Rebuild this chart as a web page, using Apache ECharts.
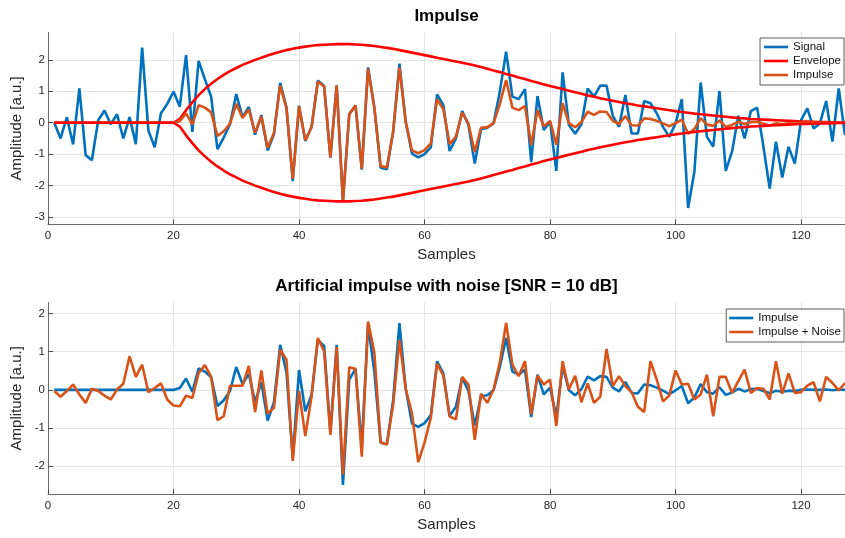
<!DOCTYPE html>
<html>
<head>
<meta charset="utf-8">
<script src="https://cdn.jsdelivr.net/npm/echarts@6/dist/echarts.min.js"></script>
<style>
html,body{margin:0;padding:0;background:#fff;}
#chart{width:845px;height:538px;}
</style>
</head>
<body>
<div id="chart"></div>
<script>
// ---- data (sample index n = 1..127) ----
var samples = [1,2,3,4,5,6,7,8,9,10,11,12,13,14,15,16,17,18,19,20,21,22,23,24,25,26,27,28,29,30,31,32,33,34,35,36,37,38,39,40,41,42,43,44,45,46,47,48,49,50,51,52,53,54,55,56,57,58,59,60,61,62,63,64,65,66,67,68,69,70,71,72,73,74,75,76,77,78,79,80,81,82,83,84,85,86,87,88,89,90,91,92,93,94,95,96,97,98,99,100,101,102,103,104,105,106,107,108,109,110,111,112,113,114,115,116,117,118,119,120,121,122,123,124,125,126,127];

var signal = [0,-0.5,0.17,-0.69,1.09,-1.03,-1.19,0.08,0.39,-0.05,0.27,-0.5,0.18,-0.68,2.39,-0.25,-0.78,0.3,0.6,0.99,
0.51,2.15,-0.29,1.97,1.38,0.83,-0.84,-0.47,-0.05,0.91,0.18,0.5,-0.38,0.24,-0.88,-0.37,1.27,0.49,-1.86,0.54,
-0.58,-0.13,1.34,1.17,-1.11,1.19,-2.49,0.27,0.55,-1.49,1.76,0.49,-1.43,-1.48,-0.29,1.88,0.03,-0.98,-1.1,-1.0,
-0.78,0.9,0.56,-0.9,-0.5,0.37,-0.07,-1.3,-0.21,-0.16,-0.02,0.99,2.26,0.83,0.75,1.07,-1.25,0.85,-0.23,0.03,
-1.53,1.6,-0.07,-0.35,-0.05,1.09,0.83,1.18,1.18,0.22,-0.13,0.88,-0.34,-0.34,0.69,0.62,0.3,-0.13,-0.45,-0.02,
0.75,-2.71,-1.56,1.28,-0.45,-0.76,1.01,-1.53,-0.92,0.22,-0.5,0.37,0.48,-0.76,-2.09,-0.6,-1.74,-0.76,-1.3,0.08,
0.46,-0.18,-0.02,0.69,-0.6,1.09,-0.39];

var envelope = [0,0,0,0,0,0,0,0,0,0,0,0,0,0,0,0,0,0,0,0,
0.12,0.4,0.65,0.88,1.07,1.24,1.39,1.52,1.64,1.74,1.84,1.92,2.0,2.07,2.14,2.2,2.26,2.31,2.35,2.39,
2.42,2.45,2.47,2.48,2.49,2.5,2.5,2.5,2.49,2.48,2.46,2.44,2.41,2.38,2.35,2.31,2.27,2.23,2.19,2.15,
2.11,2.07,2.03,1.99,1.95,1.91,1.87,1.82,1.77,1.72,1.66,1.61,1.55,1.5,1.44,1.39,1.33,1.28,1.22,1.17,
1.12,1.07,1.02,0.97,0.92,0.87,0.83,0.78,0.74,0.7,0.66,0.62,0.59,0.55,0.52,0.49,0.46,0.43,0.4,0.37,
0.34,0.32,0.29,0.27,0.25,0.23,0.21,0.19,0.17,0.15,0.14,0.12,0.11,0.1,0.09,0.08,0.07,0.06,0.05,0.04,
0.035,0.03,0.025,0.02,0.015,0.01,0.01];

var impulse = [0,0,0,0,0,0,0,0,0,0,0,0,0,0,0,0,0,0,0,0,
0.05,0.3,-0.05,0.56,0.48,0.33,-0.42,-0.27,-0.03,0.6,0.15,0.42,-0.32,0.2,-0.8,-0.33,1.18,0.46,-1.78,0.52,
-0.56,-0.13,1.31,1.15,-1.1,1.18,-2.49,0.27,0.55,-1.47,1.72,0.48,-1.38,-1.42,-0.27,1.75,0.03,-0.88,-0.97,-0.87,
-0.66,0.75,0.43,-0.68,-0.44,0.32,-0.03,-0.93,-0.16,-0.14,-0.01,0.6,1.36,0.48,0.4,0.53,-0.71,0.4,-0.12,0.06,
-0.7,0.62,-0.01,-0.14,0.02,0.35,0.25,0.36,0.34,0.06,-0.04,0.21,-0.08,-0.09,0.14,0.12,0.06,-0.02,-0.11,-0.01,
0.1,-0.35,-0.2,0.15,-0.06,-0.1,0.07,-0.13,-0.07,0.03,-0.04,0.02,0.03,-0.03,-0.09,-0.02,-0.05,-0.02,-0.03,0.0,
0.01,0,0,0.01,-0.01,0.01,0];

var impulseNoise = [-0.03,-0.18,-0.03,0.14,-0.12,-0.34,0.03,-0.03,-0.15,-0.25,0.01,0.16,0.88,0.34,0.66,-0.06,0.05,0.17,-0.25,-0.41,
-0.43,-0.15,-0.21,0.44,0.65,0.34,-0.79,-0.69,0.11,0.11,0.11,0.63,-0.58,0.51,-0.62,-0.47,1.05,0.79,-1.86,-0.03,
-1.21,-0.17,1.36,1.01,-1.18,1.12,-2.21,0.59,0.55,-1.75,1.79,0.98,-1.37,-1.43,-0.38,1.31,0.03,-0.62,-1.89,-1.38,
-0.73,0.69,0.37,-0.7,-0.77,0.34,0.14,-1.31,-0.1,-0.34,0.01,0.72,1.75,0.66,0.36,0.75,-0.64,0.37,0.14,0.27,
-0.95,0.75,0.01,0.37,-0.32,0.17,-0.34,-0.18,1.07,0.1,0.36,0.1,-0.06,-0.44,-0.58,0.75,0.27,-0.3,-0.15,0.51,
0.14,0.16,-0.25,-0.12,0.4,-0.69,0.34,0.34,-0.08,0.23,0.53,-0.08,0.05,0.03,-0.25,0.75,-0.1,0.43,-0.08,-0.06,
0.11,0.2,-0.3,0.34,0.18,-0.01,0.18];

var xTicks = [0,20,40,60,80,100,120];
var yTicksTop = [-3,-2,-1,0,1,2];
var yTicksBottom = [-2,-1,0,1,2];

// ---- chart ----
var FONT = "'Liberation Sans', Arial, Helvetica, sans-serif";
var BLUE = '#0072BD', RED = '#FF0000', ORANGE = '#D95319';
var LW = 2.6;

function pairs(ys, sign) {
  return samples.map(function (s, i) { return [s, (sign || 1) * ys[i]]; });
}

function xAxisCfg(gi) {
  return {
    gridIndex: gi, type: 'value', min: 0, max: 127,
    name: 'Samples', nameLocation: 'middle', nameGap: 23,
    nameTextStyle: {fontSize: 15, color: '#262626', fontFamily: FONT},
    axisLine: {show: true, onZero: false, lineStyle: {color: '#6b6b6b', width: 1}},
    axisTick: {show: true, inside: true, length: 5, customValues: xTicks, lineStyle: {color: '#4a4a4a', width: 1}},
    axisLabel: {customValues: xTicks, margin: 6, fontSize: 11.5, color: '#262626', fontFamily: FONT},
    splitLine: {show: true, lineStyle: {color: '#e4e4e4', width: 1}}
  };
}
function yAxisCfg(gi, mn, mx, ticks) {
  return {
    gridIndex: gi, type: 'value', min: mn, max: mx,
    name: 'Amplitude [a.u.]', nameLocation: 'middle', nameGap: 20,
    nameTextStyle: {fontSize: 15, color: '#262626', fontFamily: FONT},
    axisLine: {show: true, onZero: false, lineStyle: {color: '#6b6b6b', width: 1}},
    axisTick: {show: true, inside: true, length: 5, customValues: ticks, lineStyle: {color: '#4a4a4a', width: 1}},
    axisLabel: {customValues: ticks, margin: 3, fontSize: 11.5, color: '#262626', fontFamily: FONT},
    splitLine: {show: true, lineStyle: {color: '#e4e4e4', width: 1}}
  };
}
function lineSeries(name, data, color, xi) {
  return {
    type: 'line', name: name, data: data, xAxisIndex: xi, yAxisIndex: xi,
    symbol: 'none', showSymbol: false, clip: true,
    lineStyle: {color: color, width: LW}, itemStyle: {color: color},
    emphasis: {disabled: true}, silent: true
  };
}
function legendCfg(names, top, padding) {
  return {
    data: names.map(function (n) { return {name: n, icon: 'rect'}; }),
    orient: 'vertical', right: 1, top: top,
    padding: padding, itemWidth: 24, itemHeight: 2.6, itemGap: 0,
    borderColor: '#333', borderWidth: 0.8, backgroundColor: '#fff',
    selectedMode: false,
    formatter: function (n) { return n.trim(); },
    textStyle: {fontSize: 11.5, color: '#111', lineHeight: 14, fontFamily: FONT}
  };
}

var chart = echarts.init(document.getElementById('chart'), null, {renderer: 'canvas'});
chart.setOption({
  animation: false,
  backgroundColor: '#fff',
  grid: [
    {left: 48, right: 0, top: 32.5, height: 191.8, containLabel: false},
    {left: 48, right: 0, top: 302.4, height: 191.8, containLabel: false}
  ],
  xAxis: [xAxisCfg(0), xAxisCfg(1)],
  yAxis: [yAxisCfg(0, -3.23, 2.87, yTicksTop), yAxisCfg(1, -2.73, 2.29, yTicksBottom)],
  legend: [
    legendCfg(['Signal', 'Envelope', 'Impulse'], 38, [2, 3, 3, 4]),
    legendCfg(['Impulse ', 'Impulse + Noise'], 309, [2, 3, 3, 3])
  ],
  graphic: [
    {type: 'text', x: 446.5, y: 16, style: {text: 'Impulse', fill: '#000', font: 'bold 17px ' + FONT, textAlign: 'center', textVerticalAlign: 'middle'}},
    {type: 'text', x: 446.5, y: 286, style: {text: 'Artificial impulse with noise [SNR = 10 dB]', fill: '#000', font: 'bold 17px ' + FONT, textAlign: 'center', textVerticalAlign: 'middle'}}
  ],
  series: [
    lineSeries('Signal', pairs(signal), BLUE, 0),
    lineSeries('Envelope', pairs(envelope), RED, 0),
    lineSeries('Impulse', pairs(impulse), ORANGE, 0),
    lineSeries('Envelope', pairs(envelope, -1), RED, 0),
    lineSeries('Impulse ', pairs(impulse), BLUE, 1),
    lineSeries('Impulse + Noise', pairs(impulseNoise), ORANGE, 1)
  ]
});
</script>
</body>
</html>
